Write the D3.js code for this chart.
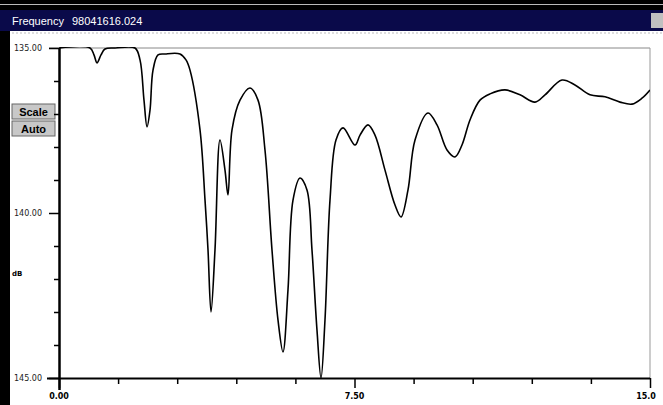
<!DOCTYPE html>
<html>
<head>
<meta charset="utf-8">
<script src="https://cdn.jsdelivr.net/npm/d3@7"></script>
<style>
  body { margin: 0; background: #fff; }
  svg { display: block; }
</style>
</head>
<body>
<svg id="chart" width="663" height="405"></svg>
<script>
// trace: frequency vs level (dB)
const freq = [0, 0.787, 0.888, 0.964, 1.066, 1.167, 1.421, 1.929, 2.056, 2.157, 2.234, 2.310, 2.386, 2.513,
  2.690, 3.071, 3.223, 3.325, 3.579, 3.706, 3.782, 3.858, 3.959, 4.086, 4.213, 4.289, 4.391, 4.594,
  4.848, 5.051, 5.228, 5.406, 5.558, 5.685, 5.812, 5.939, 6.117, 6.294, 6.421, 6.548, 6.650, 6.751,
  6.878, 7.030, 7.208, 7.513, 7.640, 7.843, 8.020, 8.274, 8.528, 8.680, 8.858, 9.036, 9.365, 9.594,
  9.848, 10.051, 10.228, 10.431, 10.685, 10.939, 11.320, 11.701, 12.081, 12.335, 12.766, 13.096,
  13.477, 13.858, 14.239, 14.543, 14.797, 15.0];
const level = [135.00, 135.00, 135.21, 135.45, 135.21, 135.03, 135.00, 135.00, 135.36, 136.58, 137.39, 136.88, 135.67, 135.21,
  135.18, 135.18, 135.36, 135.67, 137.48, 139.61, 141.12, 143.00, 141.12, 137.79, 138.70, 139.45, 137.48, 136.58,
  136.21, 136.58, 138.09, 141.12, 143.24, 144.21, 142.33, 139.61, 138.94, 139.30, 141.12, 143.55, 145.00, 143.24,
  139.61, 137.79, 137.42, 137.94, 137.64, 137.33, 137.64, 138.70, 139.76, 140.12, 139.30, 137.79, 136.97, 137.33,
  138.09, 138.30, 137.94, 137.18, 136.58, 136.39, 136.27, 136.42, 136.64, 136.42, 135.97, 136.12,
  136.42, 136.48, 136.64, 136.70, 136.52, 136.27];

const xTickLabels = ["0.00", "7.50", "15.0"];
const yTickLabels = ["135.00", "140.00", "145.00"];
const titleText = "Frequency";
const markerText = "98041616.024";
const unitText = "dB";

const svg = d3.select("#chart");
const W = 663, H = 405;
const pLeft = 59, pRight = 650, pTop = 48, pBottom = 378;

// window chrome
svg.append("rect").attr("width", W).attr("height", H).attr("fill", "#fff");
svg.append("rect").attr("x", 0).attr("y", 0).attr("width", W).attr("height", 10).attr("fill", "#000");
svg.append("rect").attr("x", 0).attr("y", 4).attr("width", W).attr("height", 1).attr("fill", "#bbb");
svg.append("rect").attr("x", 0).attr("y", 10).attr("width", W).attr("height", 21).attr("fill", "#0a0a4a");
svg.append("line").attr("x1", 0).attr("x2", W).attr("y1", 33).attr("y2", 33)
  .attr("stroke", "#bbb").attr("stroke-dasharray", "2,2");
svg.append("rect").attr("x", 0).attr("y", 31).attr("width", 10).attr("height", H - 31).attr("fill", "#000");
svg.append("rect").attr("x", 651).attr("y", 13).attr("width", 12).attr("height", 15).attr("fill", "#c0c0c0");

svg.append("text").attr("x", 12).attr("y", 25).attr("fill", "#fff")
  .style("font", "11px 'Liberation Sans', Arial, sans-serif").text(titleText);
svg.append("text").attr("x", 72).attr("y", 25).attr("fill", "#fff")
  .style("font", "11px 'Liberation Sans', Arial, sans-serif").text(markerText);

// Scale / Auto buttons
[["Scale", 104], ["Auto", 121]].forEach(([t, yy]) => {
  svg.append("rect").attr("x", 12).attr("y", yy).attr("width", 43).attr("height", 15)
    .attr("fill", "#c8c8c8").attr("stroke", "#666").attr("stroke-width", 1);
  svg.append("text").attr("x", 33.5).attr("y", yy + 11.5).attr("text-anchor", "middle")
    .style("font", "bold 11px 'Liberation Sans', Arial, sans-serif").attr("fill", "#000").text(t);
});

const x = d3.scaleLinear().domain([0, 15]).range([pLeft, pRight]);
const y = d3.scaleLinear().domain([135, 145]).range([pTop, pBottom]);

// frame
svg.append("line").attr("x1", pLeft - 10).attr("x2", pRight).attr("y1", pTop).attr("y2", pTop)
  .attr("stroke", "#888").attr("stroke-width", 1);
svg.append("line").attr("x1", pRight).attr("x2", pRight).attr("y1", pTop).attr("y2", pBottom)
  .attr("stroke", "#999").attr("stroke-width", 1);

// axes
const xAxis = d3.axisBottom(x).tickValues(d3.range(0, 15.01, 1.5)).tickSize(6).tickFormat("");
const gx = svg.append("g").attr("transform", `translate(0,${pBottom})`).call(xAxis);
gx.select(".domain").attr("stroke-width", 2).attr("d", `M${pLeft - 12},0.5H${pRight}`);
gx.selectAll(".tick line").attr("stroke-width", 1.5);
gx.selectAll(".tick").filter(d => d === 0 || d === 7.5 || d === 15).select("line").attr("y2", 10);

svg.selectAll(".xlab").data(xTickLabels).enter().append("text")
  .attr("x", (d, i) => x(i * 7.5) - (i === 2 ? 4 : 0)).attr("y", 399)
  .attr("text-anchor", "middle")
  .style("font", "bold 8px 'DejaVu Sans', sans-serif").text(d => d);

const yAxis = d3.axisLeft(y).tickValues(d3.range(135, 145.01, 1)).tickSize(5).tickFormat("");
const gy = svg.append("g").attr("transform", `translate(${pLeft},0)`).call(yAxis);
gy.select(".domain").attr("stroke-width", 2.5).attr("d", `M0.5,${pTop}V${pBottom + 12}`);
gy.selectAll(".tick line").attr("stroke-width", 1.5);
gy.selectAll(".tick").filter(d => d === 135 || d === 140 || d === 145).select("line").attr("x2", -10);

svg.selectAll(".ylab").data(yTickLabels).enter().append("text")
  .attr("x", 14).attr("y", (d, i) => y(135 + i * 5) + 3)
  .style("font", "8px 'DejaVu Sans', sans-serif").attr("fill", "#222").text(d => d);
svg.append("text").attr("x", 12).attr("y", 276)
  .style("font", "bold 7px 'DejaVu Sans', sans-serif").text(unitText);

// trace
svg.append("clipPath").attr("id", "plot").append("rect")
  .attr("x", pLeft).attr("y", pTop - 1).attr("width", pRight - pLeft).attr("height", pBottom - pTop + 1);
const line = d3.line().x(d => x(d[0])).y(d => y(d[1])).curve(d3.curveCatmullRom.alpha(0.5));
svg.append("path").datum(d3.zip(freq, level))
  .attr("clip-path", "url(#plot)")
  .attr("fill", "none").attr("stroke", "#000").attr("stroke-width", 1.6)
  .attr("d", line);
</script>
</body>
</html>
